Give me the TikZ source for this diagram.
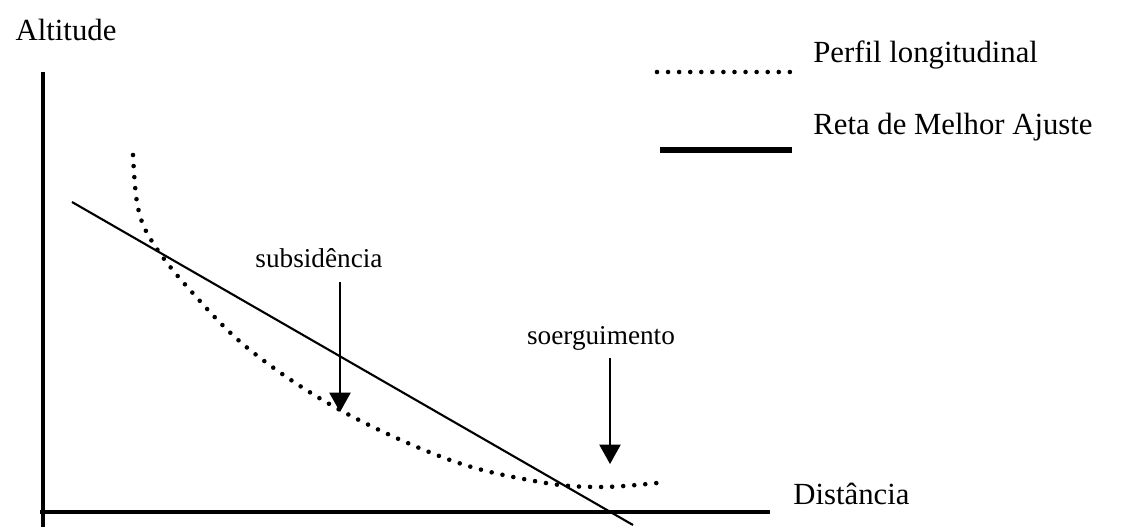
\documentclass[tikz,border=0pt]{standalone}
\usepackage{fontspec}
\setmainfont{Liberation Serif}
\usetikzlibrary{arrows.meta}
\begin{document}
\begin{tikzpicture}[x=0.02cm,y=-0.02cm,
  axisline/.style={line width=2.3pt},
  fitline/.style={line width=1.2pt},
  dotline/.style={line width=2.6pt,line cap=round,dash pattern=on 0pt off 6.3pt},
  bigtxt/.style={inner sep=0pt,font=\fontsize{17.5}{20}\selectfont},
  smalltxt/.style={inner sep=0pt,font=\fontsize{15.5}{18}\selectfont},
  downarrow/.style={line width=1.1pt,-{Triangle[width=12pt,length=11pt]}}]
\useasboundingbox (0,0) rectangle (1138,527);
% axes
\coordinate (yt) at (43,72);
\coordinate (yb) at (43,527);
\coordinate (xl) at (40,512);
\coordinate (xr) at (770,512);
\draw[axisline] (yt) -- (yb);
\draw[axisline] (xl) -- (xr);
\node[bigtxt] (alt) at (66,30) {Altitude};
\node[bigtxt,anchor=west] (dist) at (793,494) {Distância};
% best fit line
\coordinate (f1) at (72,202);
\coordinate (f2) at (633,525);
\draw[fitline] (f1) -- (f2);
% longitudinal profile
\draw[dotline] plot[smooth,tension=0.6] coordinates {(133,155) (138,208) (153,243) (190,290) (250,350) (340,410) (450,460) (540,482) (600,487) (657,483)};
% labels and arrows
\node[smalltxt] (sub) at (319,258) {subsidência};
\coordinate (s1) at (340,282);
\coordinate (s2) at (340,412);
\draw[downarrow] (s1) -- (s2);
\node[smalltxt] (soe) at (601,338) {soerguimento};
\coordinate (u1) at (610,358);
\coordinate (u2) at (610,464);
\draw[downarrow] (u1) -- (u2);
% legend
\coordinate (l1a) at (657,72);
\coordinate (l1b) at (790,72);
\draw[dotline] (l1a) -- (l1b);
\node[bigtxt,anchor=west] (perf) at (813,55) {Perfil longitudinal};
\coordinate (l2a) at (660,150);
\coordinate (l2b) at (792,150);
\draw[line width=3.6pt] (l2a) -- (l2b);
\node[bigtxt,anchor=west] (reta) at (813,127) {Reta de Melhor Ajuste};
\end{tikzpicture}
\end{document}
